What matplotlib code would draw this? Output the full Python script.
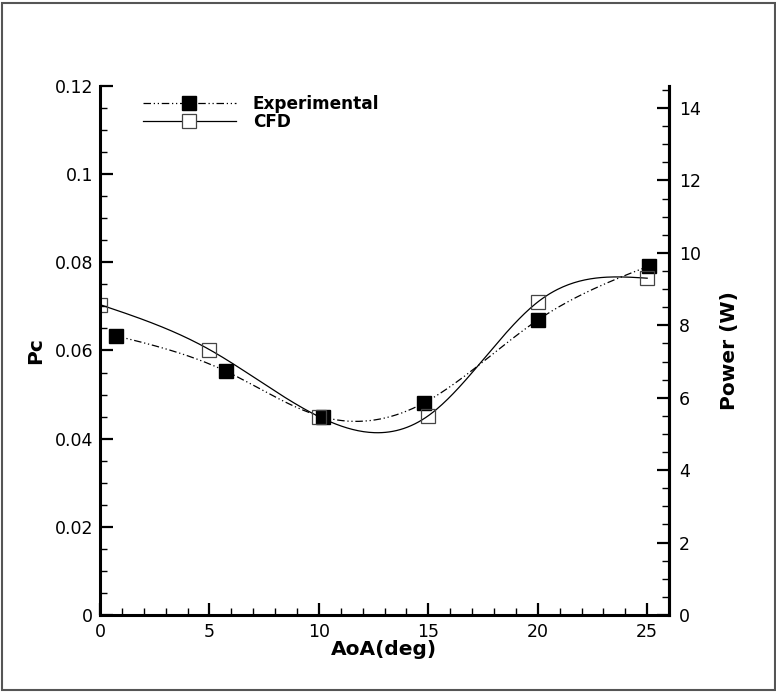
import numpy as np
import matplotlib
matplotlib.use("Agg")
import matplotlib.pyplot as plt
from matplotlib.ticker import MultipleLocator
from matplotlib.patches import Rectangle

plt.rcParams["font.family"] = ["DejaVu Sans"]

# data
exp_aoa = [0.75, 5.75, 10.2, 14.8, 20.0, 25.1]
exp_pc = [0.0633, 0.0553, 0.0449, 0.0481, 0.0669, 0.0792]
cfd_aoa = [0.0, 5.0, 10.0, 15.0, 20.0, 25.0]
cfd_pc = [0.0704, 0.0602, 0.0450, 0.0452, 0.0710, 0.0764]


def natural_spline(x, y, n=300):
    # natural cubic spline through the points, used only to draw the curve
    x = np.asarray(x, float)
    y = np.asarray(y, float)
    k = len(x)
    h = np.diff(x)
    A = np.zeros((k, k))
    b = np.zeros(k)
    A[0, 0] = A[-1, -1] = 1.0
    for i in range(1, k - 1):
        A[i, i - 1] = h[i - 1]
        A[i, i] = 2 * (h[i - 1] + h[i])
        A[i, i + 1] = h[i]
        b[i] = 3 * ((y[i + 1] - y[i]) / h[i] - (y[i] - y[i - 1]) / h[i - 1])
    c = np.linalg.solve(A, b)
    xs = np.linspace(x[0], x[-1], n)
    ys = np.empty_like(xs)
    for j, xv in enumerate(xs):
        i = min(np.searchsorted(x, xv, side="right") - 1, k - 2)
        dx = xv - x[i]
        bi = (y[i + 1] - y[i]) / h[i] - h[i] * (2 * c[i] + c[i + 1]) / 3
        di = (c[i + 1] - c[i]) / (3 * h[i])
        ys[j] = y[i] + bi * dx + c[i] * dx ** 2 + di * dx ** 3
    return xs, ys


fig = plt.figure(figsize=(7.76, 6.93), dpi=100)
ax = fig.add_axes([0.1289, 0.1126, 0.7333, 0.7633])

ex, ey = natural_spline(exp_aoa, exp_pc)
cx, cy = natural_spline(cfd_aoa, cfd_pc)

dd = (6, 2.2, 1, 2.2, 1, 2.2)
ax.plot(ex, ey, color="black", lw=0.9, dashes=dd)
ax.plot(cx, cy, color="black", lw=0.9)
ax.plot(exp_aoa, exp_pc, ls="none", marker="s", ms=10, mfc="black", mec="black")
ax.plot(cfd_aoa, cfd_pc, ls="none", marker="s", ms=10, mfc="none", mec="#444444", mew=0.9)

# legend proxies
ax.plot([], [], color="black", lw=0.9, dashes=dd,
        marker="s", ms=10, mfc="black", mec="black", label="Experimental")
ax.plot([], [], color="black", lw=0.9, marker="s", ms=10, mfc="white",
        mec="#444444", mew=0.9, label="CFD")
handles, labels = ax.get_legend_handles_labels()
ax.legend(handles, labels, loc="upper left", bbox_to_anchor=(0.075, 0.983),
          frameon=False, handlelength=5.5, handletextpad=1.0,
          labelspacing=0.0, borderaxespad=0, borderpad=0,
          prop={"weight": "bold", "size": 12.2})

ax.set_xlim(0, 26)
ax.set_ylim(0, 0.12)
ax.xaxis.set_major_locator(MultipleLocator(5))
ax.xaxis.set_minor_locator(MultipleLocator(1))
ax.yaxis.set_minor_locator(MultipleLocator(0.005))
ax.set_yticks([0, 0.02, 0.04, 0.06, 0.08, 0.1, 0.12])
ax.set_yticklabels(["0", "0.02", "0.04", "0.06", "0.08", "0.1", "0.12"])

for s in ["left", "bottom", "right"]:
    ax.spines[s].set_linewidth(2.2)
ax.spines["top"].set_visible(False)
ax.tick_params(which="major", direction="in", length=9, width=1.6,
               labelsize=12.5, pad=5, top=False, right=False)
ax.tick_params(which="minor", direction="in", length=5, width=1,
               top=False, right=False)
ax.tick_params(axis="x", which="major", pad=6)

ax.set_xlabel("AoA(deg)", fontsize=14.5, fontweight="bold")
ax.set_ylabel("Pc", fontsize=14.5, fontweight="bold")
ax.xaxis.set_label_coords(0.499, -0.047)
ax.yaxis.set_label_coords(-0.097, 0.5)

ax2 = ax.twinx()
ax2.set_ylim(0, 14.61)
ax2.yaxis.set_major_locator(MultipleLocator(2))
ax2.yaxis.set_minor_locator(MultipleLocator(0.5))
ax2.spines["top"].set_visible(False)
ax2.spines["right"].set_linewidth(2.2)
ax2.tick_params(which="major", direction="in", length=9, width=1.6,
                labelsize=12.5, pad=7)
ax2.tick_params(which="minor", direction="in", length=5, width=1)
ax2.set_ylabel("Power (W)", fontsize=14.5, fontweight="bold")
ax2.yaxis.set_label_coords(1.0896, 0.5)

fig.patches.append(Rectangle((2 / 776, 1 - 690 / 693), 773 / 776, 687 / 693,
                             transform=fig.transFigure, fill=False,
                             edgecolor="#555555", lw=1.5))

fig.savefig("out.png", dpi=100)
